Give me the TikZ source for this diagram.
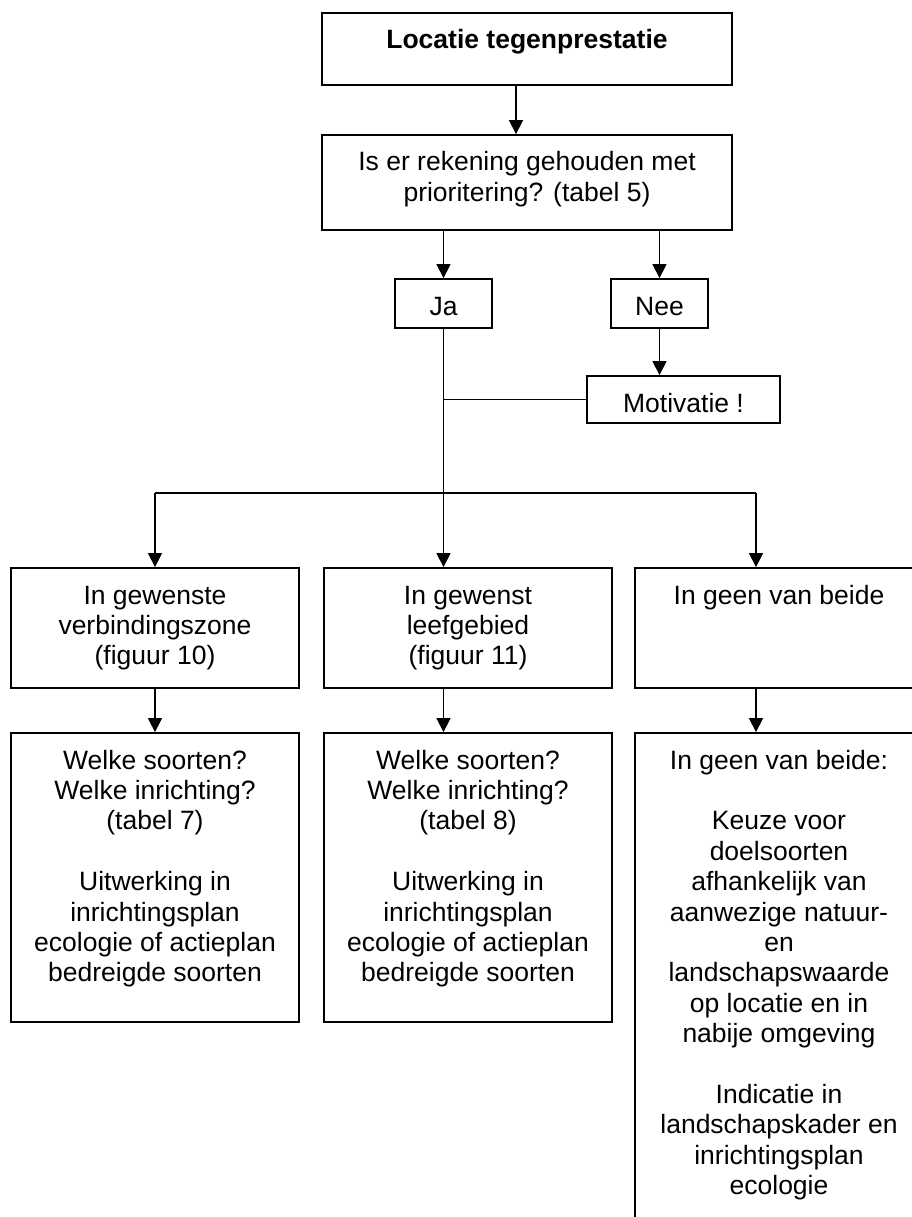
\documentclass[tikz,border=0pt]{standalone}
\usepackage{fontspec}
\setmainfont{Liberation Sans}
\usetikzlibrary{arrows.meta}
\tikzset{
  box/.style 2 args={draw, line width=1.8pt, inner sep=0pt,
    execute at begin node={\begin{minipage}[c][#2][t]{#1}\centering\rule{0pt}{36pt}},
    execute at end node={\end{minipage}}},
  arr/.style={line width=1.4pt, -{Triangle[width=14pt,length=14pt]}},
  lijn/.style={line width=1.4pt}
}
\begin{document}
\begin{tikzpicture}[x=1pt, y=-1pt, font=\fontsize{26.5}{30.4}\selectfont]
\useasboundingbox (0,0) rectangle (912,1217);
\clip (0,0) rectangle (912,1217);
\node[box={410pt}{72pt}] (locatie) at (527,49) {\textbf{Locatie tegenprestatie}};
\node[box={410pt}{95pt}] (vraag) at (527,182.5) {Is er rekening gehouden met\\ prioritering? (tabel 5)};
\node[box={97pt}{49pt}] (ja) at (443.5,303.5) {Ja}; \node[box={97pt}{49pt}] (nee) at (659.5,303.5) {Nee};
\node[box={193pt}{47pt}] (motivatie) at (683.5,399.5) {Motivatie !};
\node[box={288pt}{120pt}] (zone) at (155,628) {In gewenste\\ verbindingszone\\ (figuur 10)};
\node[box={288pt}{120pt}] (leefgebied) at (468,628) {In gewenst\\ leefgebied\\ (figuur 11)};
\node[box={288pt}{120pt}] (geen) at (779,628) {In geen van beide};
\node[box={288pt}{289pt}] (soortenA) at (155,877.5) {Welke soorten?\\ Welke inrichting?\\ (tabel 7)\\[30.4pt] Uitwerking in\\ inrichtingsplan\\ ecologie of actieplan\\ bedreigde soorten};
\node[box={288pt}{289pt}] (soortenB) at (468,877.5) {Welke soorten?\\ Welke inrichting?\\ (tabel 8)\\[30.4pt] Uitwerking in\\ inrichtingsplan\\ ecologie of actieplan\\ bedreigde soorten};
\node[box={288pt}{520pt}] (keuze) at (779,993) {In geen van beide:\\[30.4pt] Keuze voor\\ doelsoorten\\ afhankelijk van\\ aanwezige natuur-\\ en\\ landschapswaarde\\ op locatie en in\\ nabije omgeving\\[30.4pt] Indicatie in\\ landschapskader en\\ inrichtingsplan\\ ecologie};
\draw[arr] ([xshift=-11pt]locatie.south) -- ([xshift=-11pt]vraag.north);
\draw[arr] (vraag.south -| ja.north) -- (ja.north);
\draw[arr] (vraag.south -| nee.north) -- (nee.north);
\draw[arr] (nee.south) -- (nee.south |- motivatie.north);
\draw[lijn] (motivatie.west) -- (motivatie.west -| ja.south);
\draw[arr] (ja.south) -- (ja.south |- leefgebied.north);
\coordinate (splitL) at (155,493); \coordinate (splitR) at (756,493);
\draw[lijn] (splitL) -- (splitR);
\draw[arr] (splitL) -- (zone.north);
\draw[arr] (splitR) -- (splitR |- geen.north);
\draw[arr] (zone.south) -- (soortenA.north);
\draw[arr] (leefgebied.south -| ja.south) -- (soortenB.north -| ja.south);
\draw[arr] (geen.south -| splitR) -- (keuze.north -| splitR);
\end{tikzpicture}
\end{document}
